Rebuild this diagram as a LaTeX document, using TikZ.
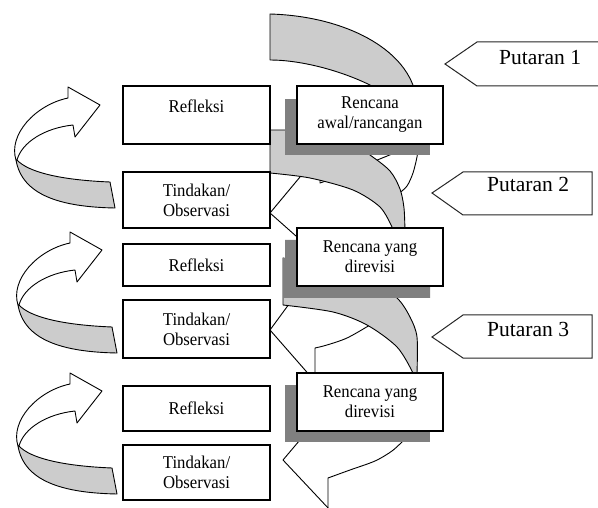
\documentclass[tikz,border=0pt]{standalone}
\usepackage{fontspec}
\setmainfont{Liberation Serif}[FakeStretch=0.93]
\newfontfamily\putfont{Liberation Serif}
\definecolor{bandgray}{HTML}{CCCCCC}
\definecolor{shadowgray}{HTML}{808080}
\begin{document}
\begin{tikzpicture}[x=1pt,y=-1pt,
  box/.style={draw=black, line width=1.3pt, fill=white, minimum width=147pt, minimum height=#1, inner sep=0pt, align=center, font=\fontsize{18}{20}\selectfont},
  rbox/.style={box=#1, minimum width=146pt},
  outl/.style={draw=black, line width=0.9pt, line join=round},
  band/.style={outl, fill=bandgray},
  shade/.style={fill=shadowgray},
  tag/.style={draw=black!85, line width=1pt, fill=white},
  tagtext/.style={font=\putfont\fontsize{21.5}{24}\selectfont, inner sep=0pt, anchor=base west}
]
\useasboundingbox (0,0) rectangle (598,508);

% left curved arrows
\foreach \dx/\dy in {0/0, 2/145, 2/286}{
 \begin{scope}[shift={(\dx,\dy)}]
  \draw[outl, fill=white] (16,160) .. controls (8,135) and (35,105) .. (68,98) -- (68,87) -- (100,105) -- (75,137) -- (73,125) .. controls (45,128) and (22,142) .. (17,160) -- cycle;
  \draw[band] (16,160) .. controls (22,195) and (60,207) .. (115,208) -- (110,182) .. controls (60,180) and (28,172) .. (17,160) -- cycle;
 \end{scope}
}

% level 1 white arrow lines
\draw[outl] (305,171) -- (270,213) -- (305,244);
\draw[outl] (320,174) -- (320,183) -- plot[smooth] coordinates {(320,183) (343,175) (370,163) (392,154) (400,150)};
\draw[outl] plot[smooth] coordinates {(418,148) (417,157) (413,173) (407,186) (398,194) (388,200)};

% top band
\draw[band] (270,14) .. controls (340,16) and (400,45) .. (414,88) -- (414,92) -- (372,92) -- (372,86) .. controls (340,70) and (300,60) .. (270,60) -- cycle;

% band 2
\draw[band] (270,130) -- plot[smooth] coordinates {(285,130) (340,135) (370,155) (390,171) (400,189) (404,208) (405,232)} -- (392,232) -- plot[smooth] coordinates {(392,227) (380,207) (353,190) (310,178) (270,173)} -- cycle;

% level 2 white arrow lines
\draw[outl] (292,300) -- (270,330) -- (312,378);
\draw[outl] (315,380) -- (315,348) -- plot[smooth] coordinates {(315,348) (327,345) (347,338) (370,325) (386,315)};

% band 3
\draw[band] (283,258) -- plot[smooth] coordinates {(283,305) (333,312) (367,325) (397,347) (413,373) (413,378)} -- (417,378) -- plot[smooth] coordinates {(417,373) (417,337) (410,317) (397,298) (370,280)} -- cycle;

% level 3 white arrow lines
\draw[outl] (305,434) -- (283,460) -- (345,526);
\draw[outl] (328,520) -- (328,478) -- plot[smooth] coordinates {(328,478) (350,470) (375,461) (392,451) (404,440)};

% shadows
\fill[shade] (285,99) rectangle (430,155);
\fill[shade] (285,240) -- (430,240) -- (430,298) -- (283,298) -- (283,258) -- (285,258) -- cycle;
\fill[shade] (285,385) rectangle (430,442);

% boxes
\node[box=58pt, text height=12.3pt, text depth=18pt] (ref1) at (196.5,115) {Refleksi};
\node[box=56pt] (tin1) at (196.5,200) {Tindakan/\\Observasi};
\node[box=42pt] (ref2) at (196.5,265) {Refleksi};
\node[box=58pt] (tin2) at (196.5,329) {Tindakan/\\Observasi};
\node[box=45pt] (ref3) at (196.5,408.5) {Refleksi};
\node[box=55pt] (tin3) at (196.5,472.5) {Tindakan/\\Observasi};
\node[rbox=58pt] (ren1) at (370,115) {Rencana\\awal/rancangan};
\node[rbox=58pt] (ren2) at (370,257) {Rencana yang\\direvisi};
\node[rbox=58pt] (ren3) at (370,402) {Rencana yang\\direvisi};

% Putaran tags
\draw[tag] (605,42) -- (477,42) -- (445,64) -- (477,86) -- (605,86);
\node[tagtext] (put1) at (499,65) {Putaran 1};
\draw[tag] (592,172) -- (463,172) -- (432,193) -- (463,215) -- (592,215) -- cycle;
\node[tagtext] (put2) at (487,192) {Putaran 2};
\draw[tag] (592,315) -- (463,315) -- (432,337) -- (463,358) -- (592,358) -- cycle;
\node[tagtext] (put3) at (487,337) {Putaran 3};
\end{tikzpicture}
\end{document}
